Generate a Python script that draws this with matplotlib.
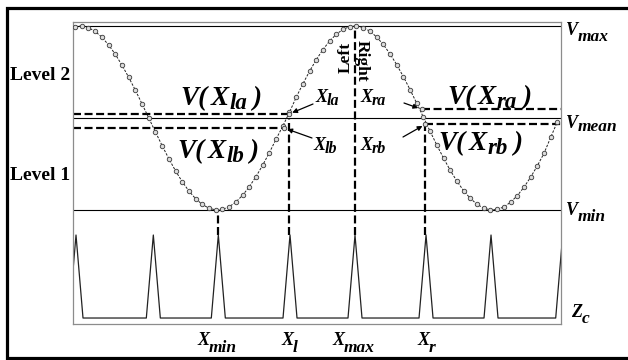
import matplotlib
matplotlib.use('Agg')
import matplotlib.pyplot as plt
import numpy as np
from matplotlib.lines import Line2D

# ---------------- data ----------------
# sampled voltage signal (normalised: Vmean = 0, Vmax = 1, Vmin = -1)
sample_idx = list(range(73))
sine_v = [0.994, 0.999, 0.982, 0.941, 0.879, 0.795, 0.694, 0.575, 0.444, 0.303,
          0.154, 0.001, -0.151, -0.300, -0.442, -0.574, -0.692, -0.794, -0.877, -0.940,
          -0.981, -0.999, -0.994, -0.965, -0.914, -0.841, -0.749, -0.639, -0.514, -0.378,
          -0.232, -0.090, 0.060, 0.223, 0.369, 0.507, 0.632, 0.743, 0.836, 0.910,
          0.963, 0.993, 1.000, 0.983, 0.943, 0.882, 0.799, 0.698, 0.581, 0.450,
          0.309, 0.160, 0.008, -0.145, -0.294, -0.436, -0.568, -0.687, -0.790, -0.874,
          -0.938, -0.980, -0.999, -0.994, -0.967, -0.916, -0.845, -0.753, -0.644, -0.520,
          -0.384, -0.210, -0.040]

v_levels = {'max': 1.0, 'mean': 0.0, 'min': -1.0}

# key points (sample position, value)
key_names = ['la', 'lb', 'ra', 'rb']
key_x = [31.94, 31.19, 51.72, 52.31]
key_v = [0.043, -0.109, 0.095, -0.068]

# event positions
x_min_pos = 21.39
x_l_pos = 32.09
x_max_pos = 41.79
x_r_pos = 52.39

# Zc pulse train
zc_centers = [0.15, 11.69, 21.39, 32.09, 41.79, 52.39, 62.09, 72.79]
zc_halfwidth = 1.045
zc_base = -2.174
zc_peak = -1.272

XLIM = (-0.373, 72.49)
YLIM = (-2.239, 1.043)

# ---------------- figure ----------------
W, H = 628, 360
fig = plt.figure(figsize=(W / 100, H / 100), dpi=100)


def fx(px):
    return px / W


def fy(py):
    return 1 - py / H


ax = fig.add_axes([fx(72.5), fy(324), (560.7 - 72.5) / W, (324 - 22) / H])
ax.set_xlim(*XLIM)
ax.set_ylim(*YLIM)
ax.set_xticks([])
ax.set_yticks([])
for sp in ax.spines.values():
    sp.set_color('#8c8c8c')
    sp.set_linewidth(0.9)

# level lines
for k, val in v_levels.items():
    ax.axhline(val, color='black', lw=0.8, zorder=1)

dash = dict(color='black', lw=1.6, ls=(0, (3.6, 1.6)), zorder=2)

# horizontal dashed lines at key values
ax.hlines(key_v[0], XLIM[0], key_x[0], **dash)
ax.hlines(key_v[1], XLIM[0], key_x[1], **dash)
ax.hlines(key_v[2], key_x[2], XLIM[1], **dash)
ax.hlines(key_v[3], key_x[3], XLIM[1], **dash)

# vertical dashed lines
ax.vlines(x_min_pos, zc_peak, v_levels['min'], **dash)
ax.vlines(x_l_pos - 0.15, zc_peak, v_levels['mean'], **dash)
ax.vlines(x_max_pos, zc_peak, v_levels['max'], **dash)
ax.vlines(x_r_pos - 0.12, zc_peak, key_v[3], **dash)

# sampled signal
mk = dict(marker='o', ms=3.2, mfc='#dcdcdc', mec='#444444', mew=0.65)
ax.plot(sample_idx, sine_v, ls=(0, (2.5, 1.5)), lw=0.7, color='#222222', zorder=3, **mk)
ax.plot(key_x, key_v, ls='none', zorder=4, **mk)

# Zc pulses
zx, zy = [], []
for c in zc_centers:
    zx += [c - zc_halfwidth, c, c + zc_halfwidth]
    zy += [zc_base, zc_peak, zc_base]
ax.plot(zx, zy, color='#222222', lw=0.9, zorder=2)

# ---------------- text ----------------
fig.canvas.draw()
renderer = fig.canvas.get_renderer()
FAM = ['Liberation Serif', 'DejaVu Serif']


def compose(x, y, parts):
    """parts: (text, size, drop_px, gap_before_px)"""
    for s, size, drop, gap in parts:
        x += gap
        t = fig.text(fx(x), fy(y + drop), s, fontsize=size, ha='left', va='baseline',
                     family=FAM, weight='bold', style='italic')
        x += t.get_window_extent(renderer).width


def big(x, y, sub):
    compose(x, y, [('V(', 19.5, 0, 0), ('X', 19.5, 0, 4), (sub, 16.5, 4, 0), (')', 19.5, 0, 5)])


big(180, 105, 'la')
big(177, 158, 'lb')
big(447, 104, 'ra')
big(438, 150, 'rb')


def small(x, y, main, sub, drop=3, s1=13, s2=11.5):
    compose(x, y, [(main, s1, 0, 0), (sub, s2, drop, 0)])


small(315, 102, 'X', 'la')
small(313, 150, 'X', 'lb')
small(360, 102, 'X', 'ra')
small(360, 150, 'X', 'rb')

small(566, 35, 'V', 'max', drop=6, s2=12.5)
small(566, 128, 'V', 'mean', drop=3, s2=12.5)
small(566, 215, 'V', 'min', drop=6, s2=12.5)
small(571, 317, 'Z', 'c', drop=6, s2=12.5)

small(197, 345, 'X', 'min', drop=7, s2=12.5)
small(281, 345, 'X', 'l', drop=7, s2=12.5)
small(332, 345, 'X', 'max', drop=7, s2=12.5)
small(417, 345, 'X', 'r', drop=7, s2=12.5)

fig.text(fx(10), fy(80), 'Level 2', fontsize=14, family=FAM, weight='bold', va='baseline')
fig.text(fx(10), fy(180), 'Level 1', fontsize=14, family=FAM, weight='bold', va='baseline')

fig.text(fx(346), fy(57), 'Left', fontsize=12.5, family=FAM, weight='bold',
         rotation=90, ha='center', va='center')
fig.text(fx(362), fy(61), 'Right', fontsize=12.5, family=FAM, weight='bold',
         rotation=270, ha='center', va='center')

# arrows
arrow_from = [(313, 104), (312, 138), (404, 103), (403, 137)]
for (px, py), kx, kv in zip(arrow_from, key_x, key_v):
    ax.annotate('', xy=(kx, kv), xytext=(px, H - py), textcoords='figure pixels',
                arrowprops=dict(arrowstyle='-|>', lw=0.9, color='black',
                                mutation_scale=7, shrinkA=0, shrinkB=2.5),
                annotation_clip=False)

# outer border (left, top, bottom; the right side is cut off in the original)
fig.add_artist(Line2D([1.3, fx(7), fx(7), 1.3], [fy(7.5), fy(7.5), fy(358), fy(358)],
                      transform=fig.transFigure, color='black', lw=2.3,
                      solid_joinstyle='miter', clip_on=False))

fig.savefig('out.png', dpi=100)
